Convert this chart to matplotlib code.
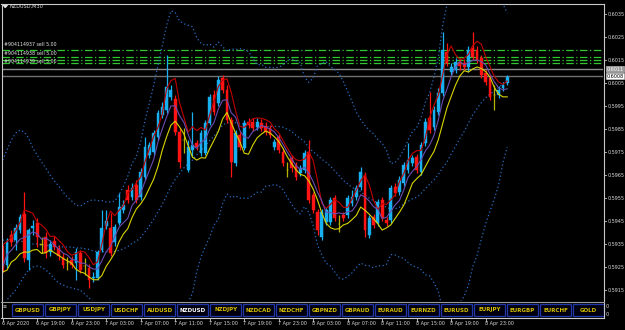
import numpy as np
import matplotlib
matplotlib.use("Agg")
import matplotlib.pyplot as plt
import matplotlib.transforms as mtransforms
from matplotlib.lines import Line2D
from matplotlib.patches import Rectangle

# ---------------- data ----------------
symbol_title = "NZDUSD,M30"
opens = [0.59324, 0.59258, 0.59389, 0.59367, 0.59411, 0.59480, 0.59280, 0.59419, 0.59441, 0.59346,
         0.59380, 0.59315, 0.59363, 0.59333, 0.59294, 0.59267, 0.59280, 0.59267, 0.59311, 0.59254,
         0.59245, 0.59202, 0.59202, 0.59324, 0.59428, 0.59419, 0.59359, 0.59441, 0.59498, 0.59585,
         0.59554, 0.59606, 0.59554, 0.59641, 0.59737, 0.59750, 0.59815, 0.59911, 0.59932, 0.59989,
         0.59980, 0.59837, 0.59802, 0.59671, 0.59759, 0.59789, 0.59745, 0.59745, 0.59876, 0.59998,
         0.59963, 0.60072, 0.60020, 0.59889, 0.59702, 0.59824, 0.59767, 0.59880, 0.59880, 0.59858,
         0.59876, 0.59863, 0.59854, 0.59771, 0.59815, 0.59750, 0.59671, 0.59724, 0.59693, 0.59658,
         0.59671, 0.59750, 0.59563, 0.59489, 0.59380, 0.59445, 0.59445, 0.59550, 0.59437, 0.59476,
         0.59476, 0.59528, 0.59554, 0.59598, 0.59649, 0.59389, 0.59467, 0.59441, 0.59541, 0.59454,
         0.59454, 0.59598, 0.59576, 0.59615, 0.59671, 0.59702, 0.59728, 0.59662, 0.59789, 0.59898,
         0.59858, 0.59924, 0.60006, 0.60185, 0.60098, 0.60107, 0.60141, 0.60137, 0.60120, 0.60202,
         0.60194, 0.60159, 0.60093, 0.60072, 0.59998, 0.59998, 0.60028, 0.60050]
highs = [0.59346, 0.59376, 0.59411, 0.59437, 0.59480, 0.59576, 0.59419, 0.59454, 0.59463, 0.59380,
         0.59402, 0.59367, 0.59384, 0.59346, 0.59311, 0.59294, 0.59298, 0.59333, 0.59324, 0.59289,
         0.59263, 0.59228, 0.59324, 0.59498, 0.59498, 0.59484, 0.59437, 0.59571, 0.59541, 0.59606,
         0.59615, 0.59628, 0.59680, 0.59815, 0.59793, 0.59845, 0.59932, 0.59967, 0.60172, 0.60041,
         0.59998, 0.59854, 0.59854, 0.59802, 0.59924, 0.59802, 0.59845, 0.59889, 0.60002, 0.60020,
         0.60080, 0.60085, 0.60041, 0.59902, 0.59845, 0.59837, 0.59889, 0.59898, 0.59898, 0.59898,
         0.59893, 0.59880, 0.59867, 0.59806, 0.59828, 0.59767, 0.59706, 0.59737, 0.59706, 0.59693,
         0.59759, 0.59802, 0.59576, 0.59502, 0.59502, 0.59511, 0.59554, 0.59563, 0.59476, 0.59489,
         0.59563, 0.59585, 0.59606, 0.59684, 0.59662, 0.59476, 0.59480, 0.59545, 0.59554, 0.59467,
         0.59606, 0.59615, 0.59645, 0.59706, 0.59789, 0.59737, 0.59741, 0.59793, 0.59898, 0.60011,
         0.59950, 0.60028, 0.60272, 0.60224, 0.60137, 0.60159, 0.60159, 0.60154, 0.60211, 0.60272,
         0.60211, 0.60172, 0.60107, 0.60085, 0.60041, 0.60037, 0.60054, 0.60085]
lows = [0.59228, 0.59245, 0.59341, 0.59324, 0.59397, 0.59271, 0.59237, 0.59389, 0.59337, 0.59311,
        0.59289, 0.59298, 0.59324, 0.59280, 0.59245, 0.59237, 0.59245, 0.59193, 0.59223, 0.59215,
        0.59158, 0.59184, 0.59193, 0.59315, 0.59415, 0.59298, 0.59341, 0.59432, 0.59484, 0.59528,
        0.59541, 0.59528, 0.59541, 0.59628, 0.59724, 0.59737, 0.59802, 0.59898, 0.59919, 0.59976,
        0.59824, 0.59680, 0.59745, 0.59662, 0.59728, 0.59759, 0.59732, 0.59737, 0.59867, 0.59911,
        0.59950, 0.60006, 0.59876, 0.59641, 0.59689, 0.59759, 0.59759, 0.59854, 0.59841, 0.59845,
        0.59841, 0.59824, 0.59811, 0.59759, 0.59745, 0.59689, 0.59641, 0.59662, 0.59628, 0.59645,
        0.59658, 0.59528, 0.59484, 0.59389, 0.59367, 0.59432, 0.59432, 0.59450, 0.59402, 0.59450,
        0.59463, 0.59515, 0.59541, 0.59585, 0.59380, 0.59376, 0.59419, 0.59428, 0.59450, 0.59428,
        0.59441, 0.59558, 0.59563, 0.59602, 0.59658, 0.59689, 0.59658, 0.59649, 0.59776, 0.59832,
        0.59845, 0.59911, 0.59993, 0.60124, 0.60085, 0.60093, 0.60107, 0.60107, 0.60098, 0.60150,
        0.60137, 0.60072, 0.60041, 0.59976, 0.59932, 0.59985, 0.60015, 0.60041]
closes = [0.59250, 0.59359, 0.59359, 0.59419, 0.59467, 0.59289, 0.59411, 0.59428, 0.59380, 0.59346,
          0.59311, 0.59350, 0.59337, 0.59298, 0.59258, 0.59267, 0.59258, 0.59315, 0.59237, 0.59254,
          0.59193, 0.59206, 0.59315, 0.59419, 0.59450, 0.59311, 0.59424, 0.59511, 0.59519, 0.59541,
          0.59593, 0.59541, 0.59662, 0.59771, 0.59780, 0.59832, 0.59919, 0.59946, 0.60033, 0.60020,
          0.59837, 0.59706, 0.59802, 0.59771, 0.59780, 0.59771, 0.59832, 0.59876, 0.59989, 0.59924,
          0.60063, 0.60020, 0.59889, 0.59706, 0.59832, 0.59771, 0.59876, 0.59867, 0.59854, 0.59880,
          0.59854, 0.59837, 0.59824, 0.59793, 0.59759, 0.59702, 0.59671, 0.59680, 0.59641, 0.59680,
          0.59745, 0.59541, 0.59498, 0.59411, 0.59489, 0.59498, 0.59541, 0.59463, 0.59437, 0.59463,
          0.59550, 0.59554, 0.59593, 0.59662, 0.59411, 0.59463, 0.59432, 0.59532, 0.59463, 0.59441,
          0.59593, 0.59571, 0.59628, 0.59693, 0.59715, 0.59724, 0.59671, 0.59780, 0.59880, 0.59845,
          0.59932, 0.60006, 0.60194, 0.60137, 0.60120, 0.60141, 0.60124, 0.60120, 0.60194, 0.60163,
          0.60150, 0.60085, 0.60054, 0.59989, 0.59998, 0.60020, 0.60041, 0.60076]

# Bollinger band values of the first 19 bars (their window reaches before the chart),
# read from the picture
bb_head_upper = [0.59715, 0.59759, 0.59802, 0.59832, 0.59845, 0.59837, 0.59811, 0.59767, 0.59737,
                 0.59706, 0.59680, 0.59649, 0.59624, 0.59602, 0.59576, 0.59554, 0.59537, 0.59519,
                 0.59515]
bb_head_mid = [0.59367, 0.59367, 0.59363, 0.59363, 0.59363, 0.59359, 0.59354, 0.59350, 0.59350,
               0.59346, 0.59346, 0.59341, 0.59341, 0.59341, 0.59337, 0.59337, 0.59337, 0.59333,
               0.59333]
bb_head_lower = [0.59085, 0.59107, 0.59128, 0.59150, 0.59180, 0.59211, 0.59237, 0.59250, 0.59254,
                 0.59250, 0.59237, 0.59220, 0.59198, 0.59180, 0.59172, 0.59163, 0.59159, 0.59154,
                 0.59150]

time_label_bars = [0, 8, 16, 24, 32, 40, 48, 56, 64, 72, 80, 88, 96, 104, 112]
time_labels = ["6 Apr 2020", "6 Apr 19:00", "6 Apr 23:00", "7 Apr 03:00", "7 Apr 07:00",
               "7 Apr 11:00", "7 Apr 15:00", "7 Apr 19:00", "7 Apr 23:00", "8 Apr 03:00",
               "8 Apr 07:00", "8 Apr 11:00", "8 Apr 15:00", "8 Apr 19:00", "8 Apr 23:00"]
price_ticks = [0.5915, 0.5925, 0.5935, 0.5945, 0.5955, 0.5965, 0.5975, 0.5985,
               0.5995, 0.6005, 0.6015, 0.6025, 0.6035]
order_levels = [0.60194, 0.60163, 0.60152, 0.60135]
order_labels = ["#904114937 sell 5.00", "#904114938 sell 5.00", "#904114939 sell 5.00"]
ask_price = 0.6011
bid_price = 0.6008
tabs = ["GBPUSD", "GBPJPY", "USDJPY", "USDCHF", "AUDUSD", "NZDUSD", "NZDJPY", "NZDCAD",
        "NZDCHF", "GBPNZD", "GBPAUD", "EURAUD", "EURNZD", "EURUSD", "EURJPY", "EURGBP",
        "EURCHF", "GOLD"]
active_tab = "NZDUSD"

# ---------------- helpers ----------------
def sma(a, n):
    a = np.asarray(a, dtype=float)
    out = np.empty(len(a))
    for i in range(len(a)):
        out[i] = a[max(0, i - n + 1):i + 1].mean()
    return out

def bollinger(a, n, k, head_u, head_m, head_l):
    a = np.asarray(a, dtype=float)
    m = np.empty(len(a)); u = np.empty(len(a)); lo = np.empty(len(a))
    for i in range(len(a)):
        if i < n - 1:
            m[i], u[i], lo[i] = head_m[i], head_u[i], head_l[i]
        else:
            w = a[i - n + 1:i + 1]
            m[i] = w.mean()
            s = w.std()
            u[i] = m[i] + k * s
            lo[i] = m[i] - k * s
    return m, u, lo

# ---------------- figure ----------------
W, H = 625, 330
fig = plt.figure(figsize=(W / 100, H / 100), dpi=100, facecolor="black")

def fx(px):
    return px / W

def fy(py):
    return 1 - py / H

L, R, T, B = 2, 603, 4, 301
ax = fig.add_axes([fx(L), fy(B), (R - L) / W, (B - T) / H])
ax.set_facecolor("black")
ax.set_xlim(-0.16, 139.2)
ax.set_ylim(0.591022, 0.603935)
ax.axis("off")

n = len(closes)
x = np.arange(n)
o = np.array(opens); h = np.array(highs); l = np.array(lows); c = np.array(closes)

BULL = "#18b0f0"
BEAR = "#ff1414"
DOJI = "#b8b400"

# Bollinger bands (dotted)
mid, up, dn = bollinger(c, 20, 3.0, bb_head_upper, bb_head_mid, bb_head_lower)
bb_col = "#2a6cc0"
for band in (mid, up, dn):
    ax.plot(x, band, color=bb_col, lw=0.9, ls=(0, (1, 2)), zorder=2)

# order lines and bid/ask lines
for lv in order_levels:
    ax.axhline(lv, color="#2ec82e", lw=0.9, ls=(0, (6, 2, 1, 2)), zorder=1)
ax.axhline(ask_price, color="#8a8a8a", lw=1.0, zorder=1)
ax.axhline(bid_price, color="#707070", lw=1.0, zorder=1)

# candles
for i in x:
    if o[i] == c[i]:
        col = DOJI
    elif c[i] > o[i]:
        col = BULL
    else:
        col = BEAR
    ax.vlines(i, l[i], h[i], color=col, lw=0.9, zorder=4)
    lo_, hi_ = min(o[i], c[i]), max(o[i], c[i])
    ax.add_patch(Rectangle((i - 0.33, lo_), 0.66, max(hi_ - lo_, 0.00002),
                           facecolor=col, edgecolor=col, lw=0.3, zorder=5))

# moving averages
ax.plot(x, sma(h, 3), color="#c00000", lw=0.8, zorder=6)
ax.plot(x, sma(l, 5), color="#d8d400", lw=0.8, zorder=6)
ax.plot(x, sma(c, 5), color="#6a4cb0", lw=0.8, zorder=6)

# order labels
tr_lab = mtransforms.blended_transform_factory(fig.transFigure, ax.transData)
lab_y = [44.7, 53.4, 61.6]
for py, txt in zip(lab_y, order_labels):
    fig.text(fx(4), fy(py), txt, color="#e8e8e8", fontsize=3.4, va="center", ha="left")

# title
fig.text(fx(9), fy(6.5), symbol_title, color="#e0e0e0", fontsize=3.6, va="center", ha="left")
fig.patches.append(plt.Polygon([[fx(3), fy(4.8)], [fx(7.5), fy(4.8)], [fx(5.25), fy(7.5)]],
                               closed=True, transform=fig.transFigure, color="#e0e0e0"))

# frame lines
def hline(py, x0, x1, col, lw=1.0):
    fig.add_artist(Line2D([fx(x0), fx(x1)], [fy(py), fy(py)], color=col, lw=lw,
                          transform=fig.transFigure))

def vline(px, y0, y1, col, lw=1.0):
    fig.add_artist(Line2D([fx(px), fx(px)], [fy(y0), fy(y1)], color=col, lw=lw,
                          transform=fig.transFigure))

frame = "#c8c8c8"
hline(3.5, 1.5, 603.5, frame, 0.8)
vline(1.8, 3.5, 318, frame, 0.8)
vline(603.5, 3.5, 318, frame, 0.8)
hline(301.8, 1.5, 603.5, "#9a9a9a", 0.8)
hline(317.6, 1.5, 603.5, frame, 0.8)

# price axis
for p in price_ticks:
    fig.add_artist(Line2D([fx(603.5), fx(606)], [p, p], color=frame, lw=0.6, transform=tr_lab))
    fig.text(fx(607.5), p, f"{p:.4f}", transform=tr_lab, color="#d8d8d8", fontsize=3.5,
             va="center", ha="left")

# price boxes
for p, fc, tc in ((ask_price, "#9a9a9a", "#ffffff"), (bid_price, "#ffffff", "#000000")):
    fig.text(fx(606.5), p, f"{p:.4f}", transform=tr_lab, color=tc, fontsize=3.5,
             va="center", ha="left",
             bbox=dict(boxstyle="square,pad=0.15", fc=fc, ec="#d0d0d0", lw=0.4))

# time axis
tr_time = mtransforms.blended_transform_factory(ax.transData, fig.transFigure)
for b, txt in zip(time_label_bars, time_labels):
    fig.add_artist(Line2D([b, b], [fy(317.6), fy(320.5)], color=frame, lw=0.6, transform=tr_time))
    fig.text(b - 0.2, fy(323.5), txt, transform=tr_time, color="#d8d8d8", fontsize=3.5,
             va="center", ha="left")

# sub window zero labels
fig.text(fx(606), fy(306.5), "0", color="#d8d8d8", fontsize=3.5, va="center", ha="left")
fig.text(fx(606), fy(315), "0", color="#d8d8d8", fontsize=3.5, va="center", ha="left")
fig.text(fx(4.5), fy(307), "\u2261", color="#d8d8d8", fontsize=3.5, va="center", ha="center")

# symbol tabs
for k, name in enumerate(tabs):
    x0 = 12.3 + k * 33.0
    fig.add_artist(Rectangle((fx(x0), fy(316.2)), 30.6 / W, 12.6 / H, transform=fig.transFigure,
                             facecolor="#000010", edgecolor="#2238a8", lw=0.9))
    fig.text(fx(x0 + 15.3), fy(310), name, color="#ffffff" if name == active_tab else "#d8c000",
             fontsize=4.0, fontweight="bold", va="center", ha="center")

fig.savefig("out.png", dpi=100, facecolor="black")
